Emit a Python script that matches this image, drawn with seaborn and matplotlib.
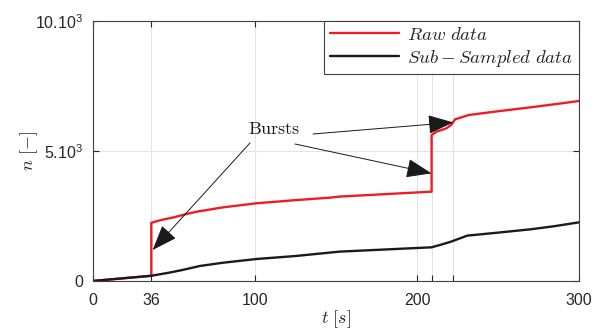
import numpy as np
import pandas as pd
import matplotlib
matplotlib.use('Agg')
import matplotlib.pyplot as plt
import seaborn as sns

sns.set_style('ticks')
plt.rcParams['font.family'] = ['Liberation Sans', 'DejaVu Sans']
plt.rcParams['mathtext.fontset'] = 'cm'

# raw data (red) - jumps at t=36 and t=209
t_raw = [0, 36, 36, 42, 50, 58, 64, 80, 101, 125, 146, 152, 180, 209, 209, 212, 218, 221, 223.5, 232, 250, 270, 285, 300]
n_raw = [0, 200, 2240, 2345, 2450, 2580, 2665, 2830, 2990, 3110, 3205, 3245, 3340, 3436, 5615, 5745, 5870, 6000, 6220, 6385, 6530, 6680, 6800, 6925]

# sub-sampled data (black)
t_sub = [0, 36, 47, 55, 66, 80, 101, 125, 152, 180, 209, 215, 221, 231, 250, 270, 285, 300]
n_sub = [0, 200, 320, 420, 577, 700, 846, 960, 1128, 1210, 1295, 1400, 1513, 1744, 1860, 1987, 2110, 2256]

x_ticks = [0, 36, 100, 200, 209, 222, 300]
x_ticklabels = ['0', '36', '100', '200', '', '', '300']
y_ticks = [0, 5000, 10000]
y_ticklabels = ['0', r'$\mathregular{5.10^3}$', r'$\mathregular{10.10^3}$']

# arrow tips / starts for the "Bursts" annotation
burst_tips = [(36.8, 1190), (209, 4140), (222.4, 6100)]
burst_starts = [(96.9, 5310), (124.7, 5270), (135.8, 5655)]
burst_label = (112, 5810)

fig = plt.figure(figsize=(6.16, 3.29), dpi=100)
ax = fig.add_axes([0.151, 0.146, 0.789, 0.790])

sns.lineplot(x=t_raw, y=n_raw, estimator=None, sort=False, color='#ee1c25',
             lw=1.7, label=r'$Raw\ data$', ax=ax)
sns.lineplot(x=t_sub, y=n_sub, estimator=None, sort=False, color='#1a1a1a',
             lw=1.7, label=r'$Sub-Sampled\ data$', ax=ax)

ax.set_xlim(0, 300)
ax.set_ylim(0, 10000)
ax.set_xticks(x_ticks)
ax.set_xticklabels(x_ticklabels)
ax.set_yticks(y_ticks)
ax.set_yticklabels(y_ticklabels)
ax.tick_params(direction='in', length=4, width=0.8, color='#262626',
               top=True, right=True, labelsize=11.5, labelcolor='#262626')
ax.tick_params(axis='x', pad=9)
ax.tick_params(axis='y', pad=7)
ax.grid(True, color='#e3e3e3', lw=0.8)
ax.set_axisbelow(True)
for s in ax.spines.values():
    s.set_color('#404040')
    s.set_linewidth(0.8)

ax.set_xlabel(r'$t\ [s]$', fontsize=13, color='#262626', labelpad=0)
ax.set_ylabel(r'$n\ [-]$', fontsize=13, color='#262626', labelpad=-3)

ax.text(burst_label[0], burst_label[1], r'$\mathrm{Bursts}$', fontsize=13,
        ha='center', va='center', color='#1a1a1a')
for tip, start in zip(burst_tips, burst_starts):
    ax.annotate('', xy=tip, xytext=start,
                arrowprops=dict(arrowstyle='-|>,head_length=1.6,head_width=0.6',
                                mutation_scale=10, lw=0.7, color='#1a1a1a',
                                shrinkA=0, shrinkB=0))

leg = ax.legend(loc='upper right', borderaxespad=0, fontsize=13.5, handlelength=3.7,
                fancybox=False, framealpha=1, edgecolor='#404040',
                borderpad=0.3, labelspacing=0.2, handletextpad=0.45)
leg.get_frame().set_linewidth(0.8)

plt.savefig('out.png', dpi=100)
plt.close()
